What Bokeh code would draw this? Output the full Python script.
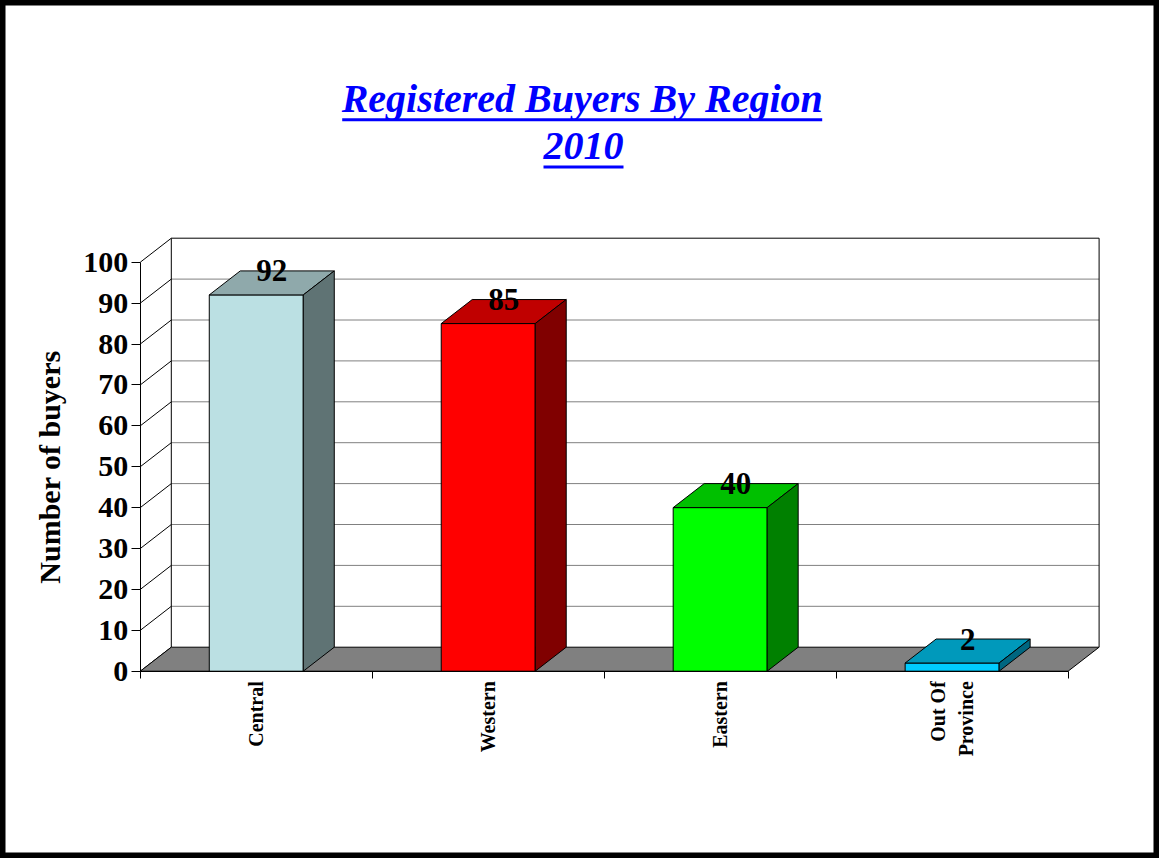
import math
from bokeh.plotting import figure
from bokeh.models import Range1d, LinearAxis, FixedTicker
from bokeh.core.properties import value
from bokeh.embed import file_html
from bokeh.resources import INLINE

# ---- data ----
categories = ["Central", "Western", "Eastern", "Out Of\nProvince"]
buyers = [92, 85, 40, 2]
front_colors = ["#BBE0E3", "#FF0000", "#00FF00", "#00CCFF"]
top_colors = ["#8FA9AB", "#C00000", "#00C000", "#0099BB"]
side_colors = ["#5F7374", "#800000", "#008000", "#006680"]
y_ticks = list(range(0, 101, 10))
title_lines = ["Registered Buyers By Region", "2010"]
y_label = "Number of buyers"

# ---- geometry (pixels of the page) ----
W, H = 1159, 858
OFF = 0                      # page offset of the canvas
X_ZERO_PX, Y_ZERO_PX = 139.8, 670.7
CAT_PX, UNIT_PX = 231.95, 4.09
DEPTH_X_PX, DEPTH_Y_PX = 31, 24
BAR_PX = 94
FONT = "Liberation Serif"


def xd(px):
    return (px - X_ZERO_PX) / CAT_PX


def yd(py):
    return (Y_ZERO_PX - py) / UNIT_PX


DX = DEPTH_X_PX / CAT_PX
DY = DEPTH_Y_PX / UNIT_PX
BW = BAR_PX / CAT_PX
N = len(categories)
YMAX = y_ticks[-1]

p = figure(width=W, height=H,
           x_range=Range1d(xd(OFF), xd(OFF + W)),
           y_range=Range1d(yd(OFF + H), yd(OFF)),
           x_axis_type=None, y_axis_type=None,
           toolbar_location=None, output_backend="svg",
           min_border=0, outline_line_color="black", outline_line_width=10,
           background_fill_color="white", border_fill_color="white")

# back wall gridlines
inner = [t for t in y_ticks if 0 < t < YMAX]
p.segment(x0=[DX] * len(inner), x1=[N + DX] * len(inner),
          y0=[t + DY for t in inner], y1=[t + DY for t in inner],
          line_color="#808080", line_width=1)
# back wall border
p.segment(x0=[DX, DX, N + DX], x1=[N + DX, DX, N + DX],
          y0=[YMAX + DY, DY, DY], y1=[YMAX + DY, YMAX + DY, YMAX + DY],
          line_color="black", line_width=1)
# left wall diagonals
p.segment(x0=[0] * len(y_ticks), x1=[DX] * len(y_ticks),
          y0=y_ticks, y1=[t + DY for t in y_ticks],
          line_color="black", line_width=1)
# floor
p.patch(x=[0, N, N + DX, DX], y=[0, 0, DY, DY],
        fill_color="#808080", line_color="black", line_width=1)

# bars
for i, v in enumerate(buyers):
    x0 = i + (1 - BW) / 2
    x1 = x0 + BW
    p.patch(x=[x0, x1, x1, x0], y=[0, 0, v, v],
            fill_color=front_colors[i], line_color="black", line_width=1)
    p.patch(x=[x0, x1, x1 + DX, x0 + DX], y=[v, v, v + DY, v + DY],
            fill_color=top_colors[i], line_color="black", line_width=1)
    p.patch(x=[x1, x1 + DX, x1 + DX, x1], y=[0, DY, v + DY, v],
            fill_color=side_colors[i], line_color="black", line_width=1)

p.text(x=[i + 0.5 + DX / 2 for i in range(N)], y=[v + DY for v in buyers],
       text=[str(v) for v in buyers],
       text_font=value(FONT), text_font_style="bold", text_font_size="31px",
       text_color="black", text_align="center", text_baseline="middle")

# axes
yaxis = LinearAxis(fixed_location=0, bounds=(0, YMAX),
                   ticker=FixedTicker(ticks=y_ticks, minor_ticks=[]),
                   axis_label=y_label, axis_label_text_color="black",
                   axis_label_text_font=FONT, axis_label_text_font_style="bold",
                   axis_label_text_font_size="30px", axis_label_standoff=15,
                   major_label_text_font=FONT, major_label_text_font_style="bold",
                   major_label_text_font_size="30px", major_label_standoff=3,
                   major_label_text_color="black",
                   major_tick_out=9, major_tick_in=0, minor_tick_out=0, minor_tick_in=0,
                   axis_line_color="black", major_tick_line_color="black")
p.add_layout(yaxis, "left")

xaxis = LinearAxis(fixed_location=0, bounds=(0, N),
                   ticker=FixedTicker(ticks=[i + 0.5 for i in range(N)],
                                      minor_ticks=list(range(N + 1))),
                   major_label_overrides={i + 0.5: "" for i in range(N)},
                   major_tick_out=0, major_tick_in=0, minor_tick_out=7, minor_tick_in=0,
                   axis_line_color="black", minor_tick_line_color="black")
p.add_layout(xaxis, "below")

# category labels, reading upward, ending just under the axis
p.text(x=[i + 0.5 for i in range(N)], y=[yd(Y_ZERO_PX + 10)] * N, text=categories,
       angle=math.pi / 2, text_font=value(FONT), text_font_style="bold",
       text_font_size="20px", text_color="black", text_align="right",
       text_baseline="middle", text_line_height=1.3)

# title
title_pos = [(581.7, 111.7 - 13.5), (582.9, 159.0 - 13.5)]
p.text(x=[xd(a) for a, b in title_pos], y=[yd(b) for a, b in title_pos],
       text=title_lines, text_align="center", text_baseline="middle",
       text_font=value(FONT), text_font_style="bold italic",
       text_font_size="40px", text_color="#0000FF")
ul = [(341.7, 821.7, 119.3), (543.0, 623.0, 166.5)]
p.segment(x0=[xd(a) for a, b, c in ul], x1=[xd(b) for a, b, c in ul],
          y0=[yd(c) for a, b, c in ul], y1=[yd(c) for a, b, c in ul],
          line_color="#0000FF", line_width=3)

open("out.html", "w").write(file_html(p, INLINE))
